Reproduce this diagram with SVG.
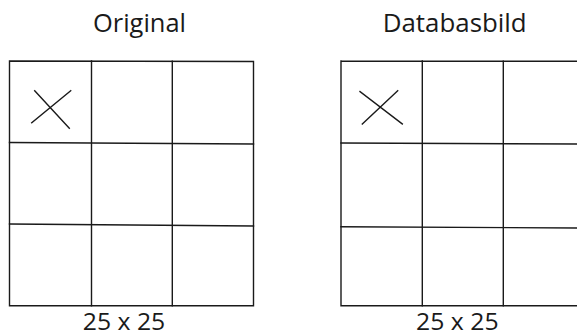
<svg xmlns="http://www.w3.org/2000/svg" width="577" height="335" viewBox="0 0 577 335">
<style>
.ln{stroke:#1a1a1a;stroke-width:1.4;fill:none;stroke-linecap:square}
.t{font-family:"Open Sans","Noto Sans",sans-serif;font-size:26px;fill:#1a1a1a;text-anchor:middle}
.b{font-size:24px}
</style>
<rect width="577" height="335" fill="#fff"/>
<g id="original">
<text class="t" x="139.5" y="32.3" textLength="93" lengthAdjust="spacingAndGlyphs">Original</text>
<path class="ln" d="M9.5,61 L253.5,61.5 L253.5,305.7 L9.5,305.7 Z"/>
<path class="ln" d="M91.5,61 L91.5,305.7 M172.3,61.3 L172.3,305.7"/>
<path class="ln" d="M9.5,142.5 L253.5,144 M9.5,224 L253.5,226"/>
<path class="ln" d="M31.7,122.7 L70.7,90.7 M34.7,90.7 L69.3,128.3"/>
<text class="t b" x="124" y="329.5" textLength="82.5" lengthAdjust="spacingAndGlyphs">25 x 25</text>
</g>
<g id="databasbild">
<text class="t" x="454.7" y="32.3" textLength="144" lengthAdjust="spacingAndGlyphs">Databasbild</text>
<path class="ln" d="M341,61 L577,61.3 M341,61 L341,305.7 L577,305.7"/>
<path class="ln" d="M422.3,61 L422.3,305.7 M503.3,61.2 L503.3,305.7"/>
<path class="ln" d="M341,143 L577,144 M341,226.7 L577,228"/>
<path class="ln" d="M362.3,124 L397.7,90.7 M360,91.5 L402.3,124"/>
<text class="t b" x="457.3" y="329.5" textLength="82.5" lengthAdjust="spacingAndGlyphs">25 x 25</text>
</g>
</svg>
